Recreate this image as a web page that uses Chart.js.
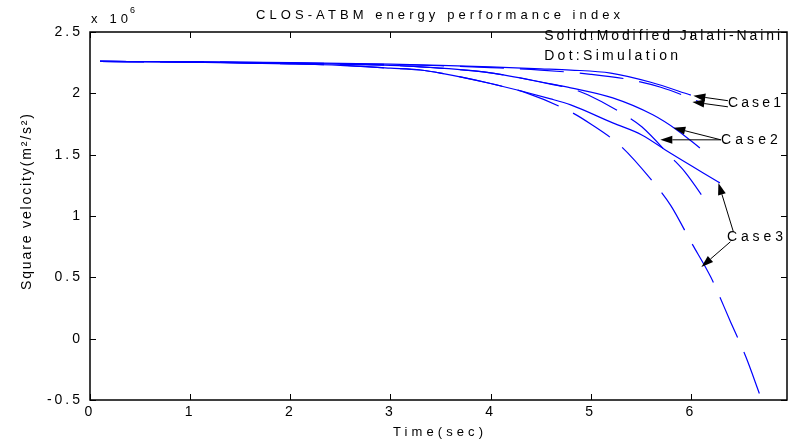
<!DOCTYPE html>
<html>
<head>
<meta charset="utf-8">
<script src="https://cdn.jsdelivr.net/npm/chart.js@4/dist/chart.umd.min.js"></script>
<style>
html,body{margin:0;padding:0;background:#fff;}
#wrap{width:788px;height:440px;position:relative;}
</style>
</head>
<body>
<div id="wrap"><canvas id="c" width="788" height="440"></canvas></div>
<script>
// ---- data (velocity squared in units of 1e6 m^2/s^2) ----
const xTicks = [0, 1, 2, 3, 4, 5, 6];
const yTickStep = 0.5;

const tCase1Model = [0.1, 1, 2, 3, 3.5, 4, 4.5, 4.8, 5.2, 5.6, 6.0];
const vCase1Model = [2.26, 2.258, 2.25, 2.238, 2.228, 2.215, 2.2, 2.19, 2.165, 2.09, 1.985];

const tCase1Sim = [0.1, 1, 2, 3, 3.5, 4, 4.5, 5.0, 5.4, 5.7, 6.12];
const vCase1Sim = [2.26, 2.257, 2.248, 2.235, 2.225, 2.21, 2.19, 2.155, 2.11, 2.05, 1.92];

const tCase2Model = [0.1, 1, 2, 3, 3.3, 4, 4.6, 4.8, 5.22, 5.62, 5.86, 6.09];
const vCase2Model = [2.26, 2.256, 2.245, 2.228, 2.216, 2.167, 2.077, 2.045, 1.963, 1.825, 1.702, 1.555];

const tCase2Sim = [0.1, 1, 2, 3, 3.3, 4, 4.6, 4.8, 4.97, 5.37, 5.51, 5.81, 5.94, 6.19];
const vCase2Sim = [2.26, 2.256, 2.245, 2.228, 2.216, 2.167, 2.075, 2.04, 1.988, 1.808, 1.727, 1.474, 1.36, 1.074];

const tCase3Model = [0.1, 1, 2, 2.5, 3, 3.3, 3.5, 4, 4.6, 4.8, 5.22, 5.51, 5.79, 6.29];
const vCase3Model = [2.26, 2.255, 2.24, 2.228, 2.205, 2.19, 2.165, 2.08, 1.955, 1.906, 1.759, 1.661, 1.515, 1.27];

const tCase3Sim = [0.1, 1, 2, 2.5, 3, 3.3, 3.5, 4, 4.37, 4.8, 5.0, 5.3, 5.6, 5.8, 6.0, 6.2, 6.4, 6.55, 6.69];
const vCase3Sim = [2.26, 2.255, 2.24, 2.228, 2.205, 2.19, 2.165, 2.08, 2.0, 1.849, 1.75, 1.57, 1.3, 1.085, 0.79, 0.5, 0.13, -0.15, -0.46];

// annotation texts
const titleText = 'CLOS-ATBM energy performance index';
const xTitleText = 'Time(sec)';
const yTitleText = 'Square velocity(m\u00B2/s\u00B2)';
const legendLines = ['Solid:Modified Jalali-Naini', 'Dot:Simulation'];
const caseNames = ['Case1', 'Case2', 'Case3'];

function pts(ts, vs) { return ts.map((t, i) => ({x: t, y: vs[i]})); }

const BLUE = '#0000ff';
const DASH = [44, 16];
function ds(label, ts, vs, dashed) {
  return {
    label: label,
    data: pts(ts, vs),
    borderColor: BLUE,
    backgroundColor: BLUE,
    borderWidth: 1.2,
    borderDash: dashed ? DASH : [],
    pointRadius: 0,
    fill: false,
    cubicInterpolationMode: 'monotone'
  };
}

const FONT = '"Liberation Sans", Arial, sans-serif';

function spacedText(ctx, text, x, y, width, align) {
  ctx.letterSpacing = '0px';
  const w = ctx.measureText(text).width;
  const s = text.length > 1 ? Math.max(0, (width - w) / (text.length - 1)) : 0;
  ctx.letterSpacing = s + 'px';
  let x0 = x;
  if (align === 'center') x0 = x - width / 2;
  else if (align === 'right') x0 = x - width;
  ctx.textAlign = 'left';
  ctx.fillText(text, x0, y);
  ctx.letterSpacing = '0px';
}

function arrow(ctx, x1, y1, x2, y2) {
  const ang = Math.atan2(y2 - y1, x2 - x1);
  const L = 12, W = 4;
  const bx = x2 - L * Math.cos(ang), by = y2 - L * Math.sin(ang);
  ctx.beginPath();
  ctx.moveTo(x1, y1);
  ctx.lineTo(bx, by);
  ctx.stroke();
  ctx.beginPath();
  ctx.moveTo(x2, y2);
  ctx.lineTo(bx + W * Math.sin(ang), by - W * Math.cos(ang));
  ctx.lineTo(bx - W * Math.sin(ang), by + W * Math.cos(ang));
  ctx.closePath();
  ctx.fill();
}

// annotation anchors in data coordinates [t, v]
const caseLabelPos = [[6.37, 1.922], [6.30, 1.621], [6.36, 0.83]];
const caseArrows = [
  [[6.37, 1.94], [6.025, 1.98]],
  [[6.37, 1.89], [6.015, 1.93]],
  [[6.30, 1.621], [5.825, 1.719]],
  [[6.30, 1.621], [5.695, 1.621]],
  [[6.425, 0.87], [6.275, 1.27]],
  [[6.395, 0.79], [6.105, 0.585]]
];
const caseLabelWidth = [53, 57, 56];
const legendPos = [[4.535, 2.469], [4.535, 2.306]];
const legendWidth = [236, 134];

const decorPlugin = {
  id: 'decor',
  beforeDraw(chart) {
    chart.ctx.letterSpacing = '3px';
  },
  beforeDatasetsDraw(chart) {
    chart.ctx.letterSpacing = '0px';
  },
  afterDraw(chart) {
    const ctx = chart.ctx;
    const a = chart.chartArea;
    const xs = chart.scales.x, ys = chart.scales.y;
    ctx.save();
    ctx.letterSpacing = '0px';
    // frame
    ctx.strokeStyle = '#000';
    ctx.lineWidth = 1.5;
    ctx.strokeRect(a.left, a.top, a.right - a.left, a.bottom - a.top);
    // inward ticks
    ctx.lineWidth = 1;
    ctx.beginPath();
    xs.ticks.forEach(t => {
      const p = Math.round(xs.getPixelForValue(t.value)) + 0.5;
      ctx.moveTo(p, a.bottom); ctx.lineTo(p, a.bottom - 6);
      ctx.moveTo(p, a.top); ctx.lineTo(p, a.top + 6);
    });
    ys.ticks.forEach(t => {
      const p = Math.round(ys.getPixelForValue(t.value)) + 0.5;
      ctx.moveTo(a.left, p); ctx.lineTo(a.left + 6, p);
      ctx.moveTo(a.right, p); ctx.lineTo(a.right - 6, p);
    });
    ctx.stroke();

    ctx.fillStyle = '#000';
    ctx.textBaseline = 'middle';
    // title
    ctx.font = '13px ' + FONT;
    spacedText(ctx, titleText, 438, 15, 364, 'center');
    // x 10^6
    ctx.font = '13px ' + FONT;
    spacedText(ctx, 'x 10', 91, 19, 37, 'left');
    ctx.font = '9px ' + FONT;
    ctx.fillText('6', 130, 11);
    // x title
    ctx.font = '13px ' + FONT;
    spacedText(ctx, xTitleText, 438, 432, 90, 'center');
    // y title
    ctx.save();
    ctx.translate(27, 202);
    ctx.rotate(-Math.PI / 2);
    ctx.font = '14px ' + FONT;
    spacedText(ctx, yTitleText, 0, 0, 176, 'center');
    ctx.restore();
    // legend text
    ctx.font = '14px ' + FONT;
    legendLines.forEach((s, i) => {
      spacedText(ctx, s, xs.getPixelForValue(legendPos[i][0]), ys.getPixelForValue(legendPos[i][1]), legendWidth[i], 'left');
    });
    // case labels
    caseNames.forEach((s, i) => {
      spacedText(ctx, s, xs.getPixelForValue(caseLabelPos[i][0]), ys.getPixelForValue(caseLabelPos[i][1]), caseLabelWidth[i], 'left');
    });
    // arrows
    ctx.strokeStyle = '#000';
    ctx.lineWidth = 1;
    caseArrows.forEach(ar => {
      arrow(ctx,
        xs.getPixelForValue(ar[0][0]), ys.getPixelForValue(ar[0][1]),
        xs.getPixelForValue(ar[1][0]), ys.getPixelForValue(ar[1][1]));
    });
    ctx.restore();
  }
};

new Chart(document.getElementById('c'), {
  type: 'line',
  data: {
    datasets: [
      ds('Case1 model', tCase1Model, vCase1Model, false),
      ds('Case2 model', tCase2Model, vCase2Model, false),
      ds('Case3 model', tCase3Model, vCase3Model, false),
      ds('Case1 simulation', tCase1Sim, vCase1Sim, true),
      ds('Case2 simulation', tCase2Sim, vCase2Sim, true),
      ds('Case3 simulation', tCase3Sim, vCase3Sim, true)
    ]
  },
  options: {
    responsive: false,
    animation: false,
    devicePixelRatio: 1,
    layout: {padding: {top: 32, right: 1, left: 0, bottom: 0}},
    plugins: {legend: {display: false}, title: {display: false}, tooltip: {enabled: false}},
    scales: {
      x: {
        type: 'linear',
        min: 0,
        max: 6.96,
        afterBuildTicks: (s) => { s.ticks = xTicks.map(v => ({value: v})); },
        afterFit: (s) => { s.height = 40; },
        grid: {drawOnChartArea: false, drawTicks: false},
        border: {display: false},
        ticks: {color: '#000', padding: 4, maxRotation: 0, font: {family: FONT, size: 14},
          callback: (v) => String(v)}
      },
      y: {
        type: 'linear',
        min: -0.5,
        max: 2.5,
        afterFit: (s) => { s.width = 90; },
        grid: {drawOnChartArea: false, drawTicks: false},
        border: {display: false},
        ticks: {stepSize: yTickStep, color: '#000', padding: 7, font: {family: FONT, size: 14},
          callback: (v) => String(Math.round(v * 10) / 10)}
      }
    }
  },
  plugins: [decorPlugin]
});
</script>
</body>
</html>
